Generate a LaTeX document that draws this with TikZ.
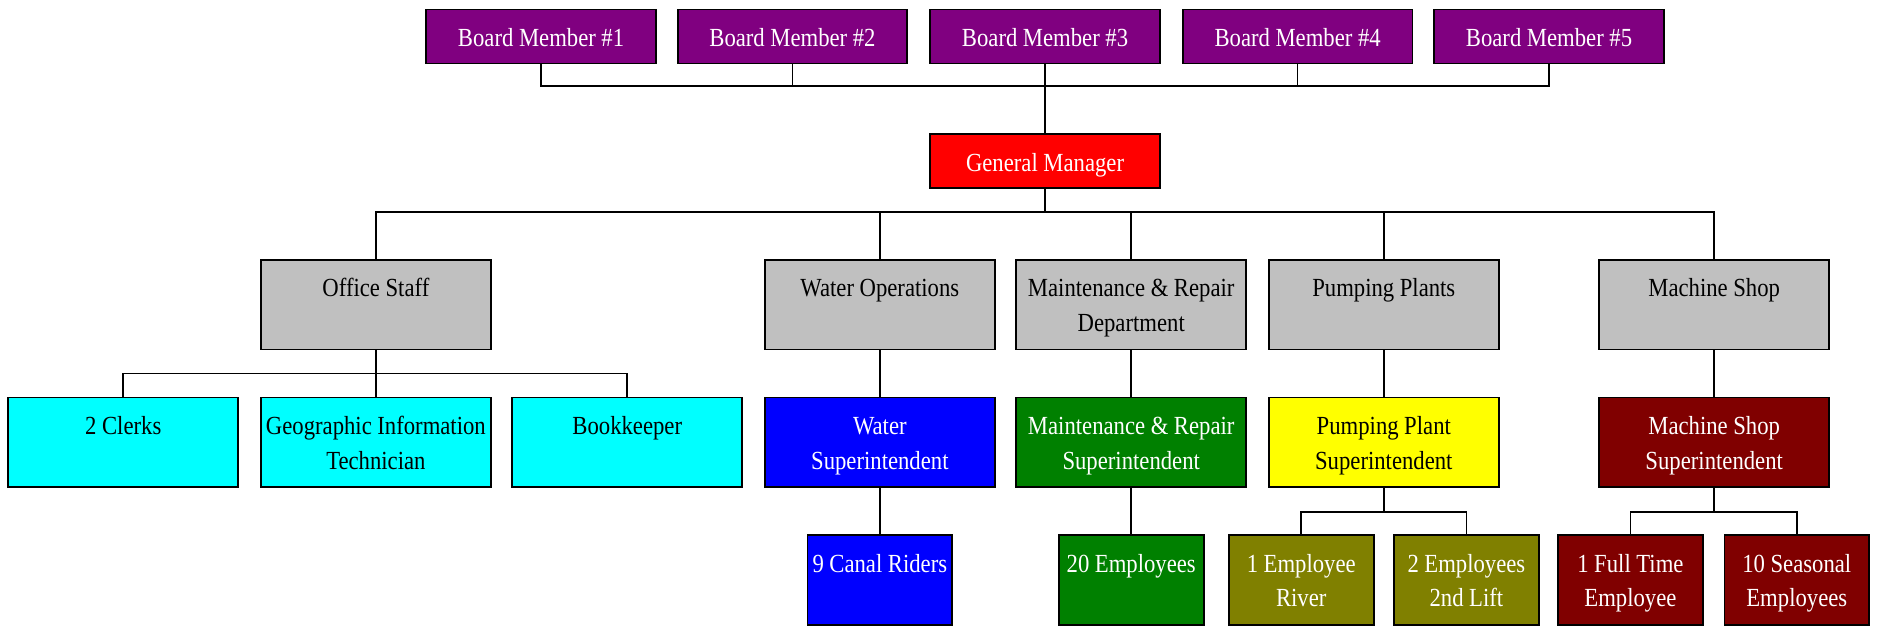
\documentclass[tikz,border=0pt]{standalone}
\usepackage{fontspec}
\setmainfont{Liberation Serif}[FakeStretch=0.87]
\newcommand\orgfont{\fontsize{15.5}{20.6}\selectfont}
\definecolor{orgpurple}{HTML}{800080}
\definecolor{orgred}{HTML}{FF0000}
\definecolor{orggray}{HTML}{C0C0C0}
\definecolor{orgcyan}{HTML}{00FFFF}
\definecolor{orgblue}{HTML}{0000FF}
\definecolor{orggreen}{HTML}{008000}
\definecolor{orgyellow}{HTML}{FFFF00}
\definecolor{orgolive}{HTML}{808000}
\definecolor{orgmaroon}{HTML}{800000}
\begin{document}
\begin{tikzpicture}[x=0.025cm, y=-0.025cm,
  font=\orgfont,
  every node/.append style={execute at begin node={\spaceskip=3.3pt\relax}},
  unit/.style={draw, line width=1.1pt, fill=#1, inner sep=0pt, align=center, text height=22pt},
  short/.style={unit=#1, text width=136.5pt, text depth=10pt},
  tall/.style={unit=#1, text width=136.5pt, text depth=31.3pt},
  small/.style={unit=#1, text width=86pt, text depth=31.3pt},
  link/.style={line width=1pt}]
\useasboundingbox (0,0) rectangle (1568,523);
% Bus heights
\coordinate (busA) at (0,72);
\coordinate (busB) at (0,177);
\coordinate (busC) at (0,312);
\coordinate (busD) at (0,428);
% Board and manager
\foreach \i/\x in {1/452,2/662,3/873,4/1084,5/1294}
  \node[short=orgpurple, text=white] (bm\i) at (\x,30.5) {Board Member \#\i};
\node[short=orgred, text=white] (gm) at (873,134.5) {General Manager};
% Departments
\node[tall=orggray] (os) at (314,254.5) {Office Staff};
\node[tall=orggray] (wo) at (735,254.5) {Water Operations};
\node[tall=orggray] (mr) at (945,254.5) {Maintenance \& Repair\\Department};
\node[tall=orggray] (pp) at (1156,254.5) {Pumping Plants};
\node[tall=orggray] (ms) at (1432,254.5) {Machine Shop};
% Superintendents and office
\node[tall=orgcyan] (clerks) at (103,369.5) {2 Clerks};
\node[tall=orgcyan] (git) at (314,369.5) {Geographic Information\\Technician};
\node[tall=orgcyan] (bk) at (524,369.5) {Bookkeeper};
\node[tall=orgblue, text=white] (ws) at (735,369.5) {Water\\Superintendent};
\node[tall=orggreen, text=white] (mrs) at (945,369.5) {Maintenance \& Repair\\Superintendent};
\node[tall=orgyellow] (pps) at (1156,369.5) {Pumping Plant\\Superintendent};
\node[tall=orgmaroon, text=white] (mss) at (1432,369.5) {Machine Shop\\Superintendent};
% Staff
\node[small=orgblue, text=white] (riders) at (735,484.5) {9 Canal Riders};
\node[small=orggreen, text=white] (emp) at (945,484.5) {20 Employees};
\node[small=orgolive, text=white] (river) at (1087,484.5) {1 Employee\\River};
\node[small=orgolive, text=white] (lift) at (1225,484.5) {2 Employees\\2nd Lift};
\node[small=orgmaroon, text=white] (fulltime) at (1362,484.5) {1 Full Time\\Employee};
\node[small=orgmaroon, text=white] (seasonal) at (1501,484.5) {10 Seasonal\\Employees};
% Connectors
\foreach \i in {1,...,5}
  \draw[link] (bm\i.south) |- (gm.north |- busA) -- (gm.north);
\foreach \n in {os,wo,mr,pp,ms}
  \draw[link] (gm.south) |- (\n.north |- busB) -- (\n.north);
\foreach \n in {clerks,git,bk}
  \draw[link] (os.south) |- (\n.north |- busC) -- (\n.north);
\foreach \a/\b in {wo/ws,mr/mrs,pp/pps,ms/mss,ws/riders,mrs/emp}
  \draw[link] (\a.south) -- (\b.north);
\foreach \n in {river,lift}
  \draw[link] (pps.south) |- (\n.north |- busD) -- (\n.north);
\foreach \n in {fulltime,seasonal}
  \draw[link] (mss.south) |- (\n.north |- busD) -- (\n.north);
\end{tikzpicture}
\end{document}
